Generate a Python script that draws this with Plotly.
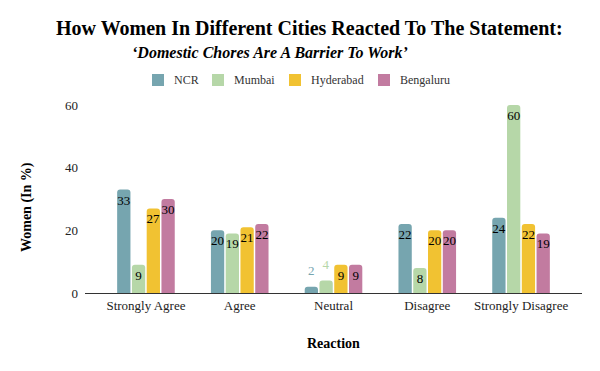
import plotly.graph_objects as go

categories = ["Strongly Agree", "Agree", "Neutral", "Disagree", "Strongly Disagree"]
ncr = [33, 20, 2, 22, 24]
mumbai = [9, 19, 4, 8, 60]
hyderabad = [27, 21, 9, 20, 22]
bengaluru = [30, 22, 9, 20, 19]
series_names = ["NCR", "Mumbai", "Hyderabad", "Bengaluru"]
colors = ["#76a5af", "#b6d7a8", "#f1c232", "#c27ba0"]
y_ticks = [0, 20, 40, 60]

FONT = "Liberation Serif, Times New Roman, serif"
ML, MR, MT, MB = 85, 18, 95, 78
W, H = 600, 371
PW, PH = W - ML - MR, H - MT - MB


def px2x(px):
    return (px - ML) / PW


def px2y(py):
    return 1 - (py - MT) / PH


fig = go.Figure()
for name, vals, col in zip(series_names, [ncr, mumbai, hyderabad, bengaluru], colors):
    inside = [v >= 6 for v in vals]
    pos = ["inside" if ok else "outside" for ok in inside]
    tcol = ["#000000" if ok else col for ok in inside]
    tsize = [13 if ok else 6 for ok in inside]
    txt = [str(v) if ok else "<span style='font-size:13px'>%d</span><br> " % v
           for v, ok in zip(vals, inside)]
    fig.add_trace(go.Bar(
        name=name, x=categories, y=vals,
        marker=dict(color=col, cornerradius=3, line=dict(width=0)),
        text=txt,
        textposition=pos,
        insidetextanchor="end",
        constraintext="none",
        textfont=dict(family=FONT, size=tsize, color=tcol),
        cliponaxis=False,
        hoverinfo="skip",
        showlegend=False,
    ))

annotations = [
    dict(text="<b>How Women In Different Cities Reacted To The Statement:</b>",
         x=px2x(309), y=px2y(28), font=dict(family=FONT, size=20, color="#000000")),
    dict(text="<b><i>‘Domestic Chores Are A Barrier To Work’</i></b>",
         x=px2x(270), y=px2y(53), font=dict(family=FONT, size=16, color="#000000")),
    dict(text="<b>Reaction</b>", x=px2x(333), y=px2y(343),
         font=dict(family=FONT, size=14, color="#000000")),
    dict(text="<b>Women (In %)</b>", x=px2x(27), y=px2y(207), textangle=-90,
         font=dict(family=FONT, size=14, color="#000000")),
]
for a in annotations:
    a.update(xref="paper", yref="paper", showarrow=False, xanchor="center", yanchor="middle")

# legend (swatch + label per series)
legend_swatch_x = [152, 212, 289, 378]
shapes = []
for name, col, sx in zip(series_names, colors, legend_swatch_x):
    shapes.append(dict(type="rect", xref="paper", yref="paper",
                       x0=px2x(sx), x1=px2x(sx + 12), y0=px2y(86), y1=px2y(74),
                       fillcolor=col, line=dict(width=0)))
    annotations.append(dict(text=name, xref="paper", yref="paper", showarrow=False,
                            x=px2x(sx + 20), y=px2y(80), xanchor="left", yanchor="middle",
                            font=dict(family=FONT, size=12, color="#333333")))

fig.update_layout(
    width=W, height=H,
    margin=dict(l=ML, r=MR, t=MT, b=MB, autoexpand=False),
    paper_bgcolor="white", plot_bgcolor="white",
    barmode="group", bargap=0.37, bargroupgap=0.1,
    font=dict(family=FONT, size=12, color="#222222"),
    showlegend=False,
    hovermode=False,
    xaxis=dict(range=[-0.65, 4.65], showline=True, linecolor="#333333", linewidth=1.2,
               ticks="", showgrid=False, tickfont=dict(family=FONT, size=13, color="#222222"),
               automargin=False, fixedrange=True),
    yaxis=dict(range=[0, 63.2], tickvals=y_ticks, showgrid=False, zeroline=False,
               showline=False, ticks="", tickfont=dict(family=FONT, size=13, color="#222222"),
               ticklabelstandoff=6, automargin=False, fixedrange=True),
    annotations=annotations,
    shapes=shapes,
)

fig.write_html("out.html", config={"displayModeBar": False},
               post_script="document.body.style.margin='0px';")
